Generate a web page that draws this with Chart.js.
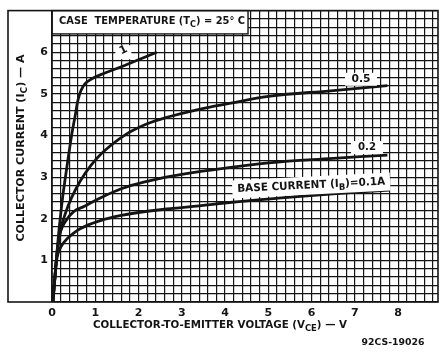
<!DOCTYPE html>
<html>
<head>
<meta charset="utf-8">
<script src="https://cdn.jsdelivr.net/npm/chart.js@4/dist/chart.umd.min.js"></script>
<style>
  html, body { margin: 0; padding: 0; background: #fff; }
  canvas { display: block; }
</style>
</head>
<body>
<canvas id="chart" width="445" height="352"></canvas>
<script>
// Collector characteristics, Tc = 25 C
// values

const X_MAX = 8.92;
const Y_MAX = 7;
const X_LABELS = [0, 1, 2, 3, 4, 5, 6, 7, 8];
const Y_LABELS = [1, 2, 3, 4, 5, 6];

// IB = 1 A
const VCE_IB1 = [0.02, 0.06, 0.1, 0.15, 0.2, 0.25, 0.31, 0.38, 0.46, 0.54, 0.6, 0.67, 0.76, 0.9, 1.1, 1.65, 2.0, 2.42];
const IC_IB1 = [0, 0.5, 1.0, 1.6, 2.1, 2.55, 3.0, 3.5, 4.05, 4.5, 4.85, 5.08, 5.24, 5.35, 5.45, 5.67, 5.82, 6.0];

// IB = 0.5 A
const VCE_IB05 = [0.02, 0.06, 0.1, 0.15, 0.2, 0.3, 0.45, 0.65, 0.9, 1.2, 1.7, 2.2, 2.7, 3.4, 4.1, 5.0, 6.5, 7.75];
const IC_IB05 = [0, 0.5, 1.0, 1.4, 1.75, 2.1, 2.5, 2.9, 3.28, 3.62, 4.02, 4.28, 4.45, 4.63, 4.77, 4.94, 5.08, 5.2];

// IB = 0.2 A
const VCE_IB02 = [0.02, 0.06, 0.1, 0.14, 0.2, 0.3, 0.5, 0.75, 1.0, 1.6, 2.2, 2.8, 3.4, 5.0, 6.5, 7.75];
const IC_IB02 = [0, 0.5, 1.0, 1.4, 1.7, 1.92, 2.17, 2.3, 2.44, 2.72, 2.9, 3.03, 3.13, 3.34, 3.45, 3.53];

// IB = 0.1 A
const VCE_IB01 = [0.02, 0.06, 0.1, 0.14, 0.22, 0.35, 0.65, 1.1, 1.6, 2.2, 2.8, 3.4, 4.1, 5.3, 6.5, 7.8];
const IC_IB01 = [0, 0.5, 0.95, 1.17, 1.35, 1.52, 1.76, 1.95, 2.08, 2.18, 2.25, 2.31, 2.39, 2.5, 2.6, 2.69];

const FONT = '"DejaVu Sans", "Liberation Sans", sans-serif';
const INK = '#141414';

// ── Helpers ────────────────────────────────────────────────

function toPoints(xs, ys) {
  return xs.map((x, i) => ({ x, y: ys[i] }));
}

function curve(xs, ys) {
  return {
    data: toPoints(xs, ys),
    showLine: true,
    borderColor: INK,
    borderWidth: 2.8,
    pointRadius: 0,
    tension: 0.4,
    clip: false,
  };
}

// 0.2 grid steps, labels only on the whole numbers listed
function gridTicks(max) {
  const out = [];
  for (let i = 0; i * 0.2 <= max + 1e-9; i++) out.push({ value: +(i * 0.2).toFixed(1) });
  return out;
}

function labelFor(list) {
  return v => {
    const r = Math.round(v);
    return Math.abs(v - r) < 1e-6 && list.includes(r) ? String(r) : '';
  };
}

// text with subscripts, squeezed/stretched to a target width
function drawRich(ctx, parts, cx, cy, size, targetW, angle) {
  const main = `bold ${size}px ${FONT}`;
  const sub = `bold ${Math.round(size * 0.78)}px ${FONT}`;
  ctx.save();
  ctx.translate(cx, cy);
  ctx.rotate(angle || 0);
  let w = 0;
  parts.forEach(p => {
    ctx.font = p.sub ? sub : main;
    p.w = ctx.measureText(p.t).width;
    w += p.w;
  });
  ctx.scale(targetW ? targetW / w : 1, 1);
  ctx.fillStyle = INK;
  ctx.textAlign = 'left';
  ctx.textBaseline = 'middle';
  let x = -w / 2;
  parts.forEach(p => {
    ctx.font = p.sub ? sub : main;
    ctx.fillText(p.t, x, p.sub ? size * 0.32 : 0);
    x += p.w;
  });
  ctx.restore();
}

function whiteBox(ctx, cx, cy, w, h, angle) {
  ctx.save();
  ctx.translate(cx, cy);
  ctx.rotate(angle || 0);
  ctx.fillStyle = '#fff';
  ctx.fillRect(-w / 2, -h / 2, w, h);
  ctx.restore();
}

// ── Plugins ───────────────────────────────────────────────

const paperPlugin = {
  id: 'paper',
  beforeDraw(chart) {
    const { ctx, width, height } = chart;
    ctx.save();
    ctx.fillStyle = '#fff';
    ctx.fillRect(0, 0, width, height);
    ctx.restore();
  },
  afterDatasetsDraw(chart) {
    const { ctx, scales: { x, y } } = chart;
    const px = v => x.getPixelForValue(v);
    const py = v => y.getPixelForValue(v);

    // case temperature box
    const bl = px(0), br = px(4.53), bt = py(Y_MAX), bb = py(6.44);
    ctx.save();
    ctx.fillStyle = '#fff';
    ctx.fillRect(bl, bt, br - bl, bb - bt);
    ctx.strokeStyle = INK;
    ctx.lineWidth = 1.4;
    ctx.strokeRect(bl, bt, br - bl, bb - bt);
    ctx.restore();
    drawRich(ctx, [{ t: 'CASE  TEMPERATURE (T' }, { t: 'C', sub: true }, { t: ') = 25° C' }],
      (bl + br) / 2 + 2, (bt + bb) / 2 - 1, 11, 186);

    // curve labels
    whiteBox(ctx, px(1.65), py(6.0), 16, 14);
    drawRich(ctx, [{ t: '1' }], px(1.65), py(6.05), 11, 0, -0.45);

    whiteBox(ctx, px(7.14), py(5.35), 32, 13);
    drawRich(ctx, [{ t: '0.5' }], px(7.14), py(5.35), 11, 19);

    whiteBox(ctx, px(7.28), py(3.71), 32, 13);
    drawRich(ctx, [{ t: '0.2' }], px(7.28), py(3.71), 11, 18);

    const ang = -0.05;
    whiteBox(ctx, px(5.99), py(2.8), 158, 18, ang);
    drawRich(ctx, [{ t: 'BASE CURRENT (I' }, { t: 'B', sub: true }, { t: ')=0.1A' }],
      px(5.99), py(2.8), 11, 148, ang);
  },
  afterDraw(chart) {
    const { ctx, chartArea: a } = chart;
    ctx.save();
    ctx.strokeStyle = INK;
    ctx.lineWidth = 1.6;
    ctx.strokeRect(8, a.top, a.right - 8, a.bottom - a.top);
    ctx.beginPath();
    ctx.moveTo(a.left, a.top);
    ctx.lineTo(a.left, a.bottom);
    ctx.stroke();
    ctx.restore();

    drawRich(ctx, [{ t: 'COLLECTOR CURRENT (I' }, { t: 'C', sub: true }, { t: ') — A' }],
      21, 148, 11, 187, -Math.PI / 2);
    drawRich(ctx, [{ t: 'COLLECTOR-TO-EMITTER VOLTAGE (V' }, { t: 'CE', sub: true }, { t: ') — V' }],
      220, 325, 11, 254);
    drawRich(ctx, [{ t: '92CS-19026' }], 393, 343, 9.5, 63);
  },
};

// ── Chart ─────────────────────────────────────────────────

const gridStyle = { color: INK, lineWidth: 1.2, drawTicks: false };
const tickFont = { family: FONT, size: 11, weight: 'bold' };

new Chart(document.getElementById('chart'), {
  type: 'scatter',
  data: {
    datasets: [
      curve(VCE_IB1, IC_IB1),
      curve(VCE_IB05, IC_IB05),
      curve(VCE_IB02, IC_IB02),
      curve(VCE_IB01, IC_IB01),
    ],
  },
  options: {
    responsive: false,
    animation: false,
    layout: { padding: { left: 8, top: 3, right: 7, bottom: 0 } },
    plugins: { legend: { display: false }, tooltip: { enabled: false } },
    scales: {
      x: {
        type: 'linear',
        min: 0,
        max: X_MAX,
        grid: gridStyle,
        border: { display: false },
        afterBuildTicks: s => { s.ticks = gridTicks(X_MAX); },
        afterFit: s => { s.height = 50; },
        ticks: {
          autoSkip: false,
          maxRotation: 0,
          padding: 5,
          color: INK,
          font: tickFont,
          callback: labelFor(X_LABELS),
        },
      },
      y: {
        type: 'linear',
        min: 0,
        max: Y_MAX,
        grid: gridStyle,
        border: { display: false },
        afterBuildTicks: s => { s.ticks = gridTicks(Y_MAX); },
        afterFit: s => { s.width = 44; },
        ticks: {
          autoSkip: false,
          padding: 4,
          color: INK,
          font: tickFont,
          callback: labelFor(Y_LABELS),
        },
      },
    },
  },
  plugins: [paperPlugin],
});
</script>
</body>
</html>
